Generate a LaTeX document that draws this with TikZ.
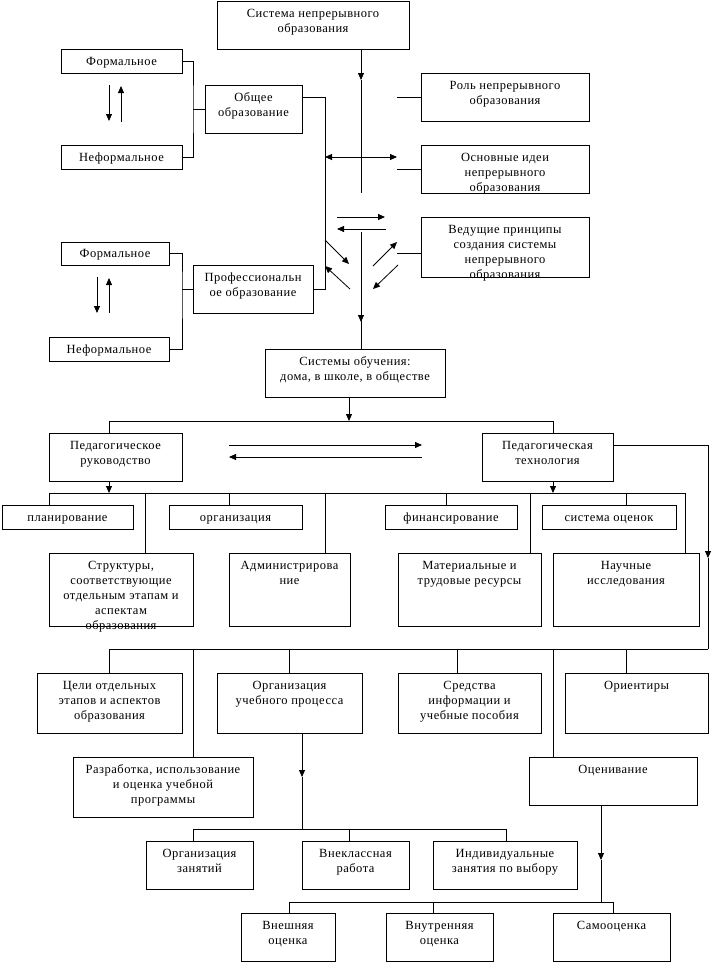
\documentclass[tikz,border=0pt]{standalone}
\usepackage{fontspec}
\setmainfont{Liberation Serif}[LetterSpace=4]
\usetikzlibrary{arrows.meta,fit,calc}
\tikzset{
 box/.style={draw, inner sep=0pt, line width=0.8pt},
 txt/.style={font=\fontsize{12.5}{15}\selectfont, align=center, inner sep=0pt},
 ln/.style={line width=0.8pt},
 arr/.style={ln, -{Triangle[length=7pt,width=6pt]}},
 darr/.style={ln, {Triangle[length=7pt,width=6pt]}-{Triangle[length=7pt,width=6pt]}},
}
\newcommand\tbox[6]{%
  \coordinate (#1-a) at (#2,#3);
  \coordinate (#1-b) at (#4,#5);
  \node[box, fit=(#1-a)(#1-b)] (#1) {};
  \node[txt, anchor=north] (#1-t) at ([yshift=-6.5pt]#1.north) {\strut #6};}
\newcommand\cbox[6]{%
  \coordinate (#1-a) at (#2,#3);
  \coordinate (#1-b) at (#4,#5);
  \node[box, fit=(#1-a)(#1-b)] (#1) {};
  \node[txt] (#1-t) at ([yshift=-1pt]#1.center) {\strut #6};}
\begin{document}
\begin{tikzpicture}[x=1pt,y=-1pt]
\path[use as bounding box] (0,0) rectangle (714,962);
% boxes
\tbox{sys}{217}{1}{409}{49}{Система непрерывного\\образования}
\cbox{f1}{61}{49}{182}{73}{Формальное}
\cbox{n1}{61}{145}{182}{169}{Неформальное}
\tbox{ob}{205}{85}{302}{133}{Общее\\образование}
\tbox{role}{421}{73}{589}{121}{Роль непрерывного\\образования}
\tbox{ideas}{421}{145}{589}{193}{Основные идеи\\непрерывного\\образования}
\tbox{princ}{421}{217}{589}{277}{Ведущие принципы\\создания системы\\непрерывного\\образования}
\cbox{f2}{61}{242}{169}{265}{Формальное}
\cbox{n2}{49}{337}{169}{361}{Неформальное}
\tbox{prof}{193}{265}{313}{313}{Профессиональн\\ое образование}
\tbox{sysob}{265}{349}{445}{397}{Системы обучения:\\дома, в школе, в обществе}
\tbox{ruk}{49}{433}{182}{481}{Педагогическое\\руководство}
\tbox{tech}{482}{433}{613}{481}{Педагогическая\\технология}
\cbox{plan}{2}{505}{133}{529}{планирование}
\cbox{org}{169}{505}{302}{529}{организация}
\cbox{fin}{385}{505}{517}{529}{финансирование}
\cbox{ocen}{542}{505}{676}{529}{система оценок}
\tbox{struct}{49}{553}{193}{626}{Структуры,\\соответствующие\\отдельным этапам и\\аспектам\\образования}
\tbox{adm}{229}{553}{350}{626}{Администрирова\\ние}
\tbox{mat}{398}{553}{541}{626}{Материальные и\\трудовые ресурсы}
\tbox{sci}{553}{553}{699}{626}{Научные\\исследования}
\tbox{goals}{37}{673}{182}{733}{Цели отдельных\\этапов и аспектов\\образования}
\tbox{orgp}{217}{673}{362}{733}{Организация\\учебного процесса}
\tbox{means}{398}{673}{541}{733}{Средства\\информации и\\учебные пособия}
\tbox{orient}{565}{673}{708}{733}{Ориентиры}
\tbox{dev}{73}{757}{253}{817}{Разработка, использование\\и оценка учебной\\программы}
\tbox{eval}{529}{757}{697}{805}{Оценивание}
\tbox{orgz}{146}{841}{253}{889}{Организация\\занятий}
\tbox{extra}{302}{841}{409}{889}{Внеклассная\\работа}
\tbox{indiv}{433}{841}{577}{889}{Индивидуальные\\занятия по выбору}
\tbox{ext}{241}{913}{335}{961}{Внешняя\\оценка}
\tbox{intl}{386}{913}{493}{961}{Внутренняя\\оценка}
\tbox{self}{553}{913}{670}{961}{Самооценка}
% top-left group
\coordinate (b1) at (193,109);
\draw[ln] (f1.east) -| (b1) |- (n1.east);
\draw[ln] (b1) -- (ob.west);
\coordinate (u1a) at (109,85); \coordinate (u1b) at (109,121);
\coordinate (u1c) at (121,122); \coordinate (u1d) at (121,86);
\draw[arr] (u1a) -- (u1b);
\draw[arr] (u1c) -- (u1d);
\coordinate (vb) at (325,289);
\draw[ln] ([yshift=12pt]ob.east) -| (vb) -- (prof.east);
\coordinate (dA) at (325,157); \coordinate (dB) at (397,157);
\draw[darr] (dA) -- (dB);
% main vertical
\coordinate (m1) at (361,80); \coordinate (m2) at (361,193);
\draw[arr] (sys.south -| m1) -- (m1);
\draw[ln] (m1) -- (m2);
\coordinate (r0) at (397,97);
\draw[ln] (role.west) -- (r0);
\draw[ln] (ideas.west) -- (ideas.west -| r0);
\draw[ln] ([yshift=-6pt]princ.west) -- ([yshift=-6pt]princ.west -| r0);
\coordinate (h1a) at (337,217); \coordinate (h1b) at (385,217);
\coordinate (h2a) at (386,229); \coordinate (h2b) at (337,229);
\draw[arr] (h1a) -- (h1b);
\draw[arr] (h2a) -- (h2b);
\coordinate (d1a) at (325,240); \coordinate (d1b) at (349,264);
\coordinate (d2a) at (350,289); \coordinate (d2b) at (325,266);
\coordinate (d3a) at (373,266); \coordinate (d3b) at (397,242);
\coordinate (d4a) at (398,265); \coordinate (d4b) at (373,289);
\draw[arr] (d1a) -- (d1b);
\draw[arr] (d2a) -- (d2b);
\draw[arr] (d3a) -- (d3b);
\draw[arr] (d4a) -- (d4b);
\coordinate (m3) at (361,232); \coordinate (m4) at (361,322);
\draw[ln] (m3) -- (sysob.north -| m3);
\draw[arr] (m3) -- (m4);
% second left group
\coordinate (b2) at (182,289);
\draw[ln] (f2.east) -| (b2) |- (n2.east);
\draw[ln] (b2) -- (prof.west);
\coordinate (u2a) at (97,277); \coordinate (u2b) at (97,313);
\coordinate (u2c) at (109,313); \coordinate (u2d) at (109,278);
\draw[arr] (u2a) -- (u2b);
\draw[arr] (u2c) -- (u2d);
% systems of learning
\coordinate (s1) at (349,421);
\draw[arr] (sysob.south -| s1) -- (s1);
\coordinate (s2) at (109,421); \coordinate (s3) at (553,421);
\draw[ln] (ruk.north -| s2) -- (s2) -- (s3) -- (tech.north -| s3);
\coordinate (k1a) at (229,445); \coordinate (k1b) at (422,445);
\coordinate (k2a) at (422,457); \coordinate (k2b) at (229,457);
\draw[arr] (k1a) -- (k1b);
\draw[arr] (k2a) -- (k2b);
% right vertical
\coordinate (t0) at (708,558); \coordinate (t1) at (708,649);
\draw[arr] ([yshift=12pt]tech.east) -| (t0);
\draw[ln] (t0) -- (t1);
% bus 493
\coordinate (p0) at (49,493); \coordinate (p7) at (685,493);
\draw[arr] (ruk.south -| s2) -- (s2 |- p0);
\draw[arr] (tech.south -| s3) -- (s3 |- p0);
\draw[ln] (plan.north -| p0) -- (p0) -- (p7) -- (sci.north -| p7);
\coordinate (p1) at (145,493); \coordinate (p2) at (229,493);
\coordinate (p3) at (325,493); \coordinate (p4) at (446,493);
\coordinate (p5) at (530,493); \coordinate (p6) at (626,493);
\draw[ln] (p1) -- (struct.north -| p1);
\draw[ln] (p2) -- (org.north -| p2);
\draw[ln] (p3) -- (adm.north -| p3);
\draw[ln] (p4) -- (fin.north -| p4);
\draw[ln] (p5) -- (mat.north -| p5);
\draw[ln] (p6) -- (ocen.north -| p6);
% bus 649
\coordinate (g0) at (109,649);
\draw[ln] (t1) -- (g0) -- (goals.north -| g0);
\coordinate (g1) at (193,649); \coordinate (g2) at (289,649);
\coordinate (g3) at (457,649); \coordinate (g4) at (553,649);
\coordinate (g5) at (626,649);
\draw[ln] (g1) -- (dev.north -| g1);
\draw[ln] (g2) -- (orgp.north -| g2);
\draw[ln] (g3) -- (means.north -| g3);
\draw[ln] (g4) -- (eval.north -| g4);
\draw[ln] (g5) -- (orient.north -| g5);
% organisation of process
\coordinate (o1) at (302,777); \coordinate (o2) at (302,829);
\draw[arr] (orgp.south -| o1) -- (o1);
\draw[ln] (o1) -- (o2);
\coordinate (q1) at (193,829); \coordinate (q2) at (349,829); \coordinate (q3) at (506,829);
\draw[ln] (orgz.north -| q1) -- (q1) -- (q3) -- (indiv.north -| q3);
\draw[ln] (q2) -- (extra.north -| q2);
% evaluation
\coordinate (e1) at (601,860); \coordinate (e2) at (601,902);
\draw[arr] (eval.south -| e1) -- (e1);
\draw[ln] (e1) -- (e2);
\coordinate (w1) at (289,902); \coordinate (w2) at (433,902); \coordinate (w3) at (613,902);
\draw[ln] (ext.north -| w1) -- (w1) -- (w3) -- (self.north -| w3);
\draw[ln] (w2) -- (intl.north -| w2);
\end{tikzpicture}
\end{document}
